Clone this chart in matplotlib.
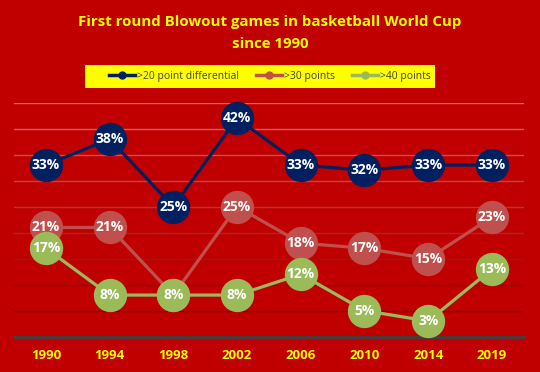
import numpy as np
import matplotlib
matplotlib.use("Agg")
import matplotlib.pyplot as plt
from matplotlib.patches import Rectangle
from matplotlib.lines import Line2D

plt.rcParams['font.family'] = ['Open Sans', 'DejaVu Sans']

years = ['1990', '1994', '1998', '2002', '2006', '2010', '2014', '2019']
pts20 = [33, 38, 25, 42, 33, 32, 33, 33]
pts30 = [21, 21, 8, 25, 18, 17, 15, 23]
pts40 = [17, 8, 8, 8, 12, 5, 3, 13]
labels = ['>20 point differential', '>30 points', '>40 points']

bg = '#c00000'
navy = '#002060'
pink = '#c0504d'
green = '#9bbb59'

fig = plt.figure(figsize=(5.4, 3.72), dpi=100, facecolor=bg)
ax = fig.add_axes([0.026, 0.095, 0.944, 0.629])
ax.set_facecolor(bg)

# gridlines get darker towards the bottom
grid_cols = ['#7a0000', '#880c0c', '#961a1a', '#a42828', '#b23636',
             '#c04444', '#ca5050', '#d25c5c', '#d86868']
for i, c in enumerate(grid_cols):
    ax.axhline((i + 1) * 5, color=c, lw=1.0, zorder=1)

x = np.arange(len(years))
series = [(pts20, navy), (pts30, pink), (pts40, green)]
for k, (vals, col) in enumerate(series):
    z = 3 + 2 * k
    ax.plot(x, vals, color=col, lw=2.3, marker='o', markersize=24,
            markeredgewidth=0, clip_on=False, zorder=z)
    for xi, v in zip(x, vals):
        ax.text(xi, v, f'{v}%', color='white', fontsize=10, fontweight='bold',
                ha='center', va='center', zorder=z + 1)

ax.set_xlim(-0.5, len(years) - 0.5)
ax.set_ylim(0, 45)
ax.set_yticks([])
ax.set_xticks(x)
ax.set_xticklabels(years, color='#ffff00', fontsize=9.5, fontweight='bold')
ax.tick_params(axis='x', length=0, pad=9)
for s in ['top', 'right', 'left']:
    ax.spines[s].set_visible(False)
ax.spines['bottom'].set_color('#404040')
ax.spines['bottom'].set_linewidth(2)

fig.text(0.5, 1 - 22 / 372, 'First round Blowout games in basketball World Cup',
         color='#ffff00', fontsize=10.8, fontweight='bold', ha='center', va='center')
fig.text(0.5, 1 - 44 / 372, 'since 1990', color='#ffff00', fontsize=10.8,
         fontweight='bold', ha='center', va='center')

# legend on a yellow strip
fig.patches.append(Rectangle((85 / 540, 1 - 88 / 372), 350 / 540, 23 / 372,
                             transform=fig.transFigure, facecolor='#ffff00',
                             edgecolor='none'))
handles = [Line2D([], [], color=c, lw=2.5, marker='o', markersize=5)
           for _, c in series]
leg = fig.legend(handles, labels, loc='center', bbox_to_anchor=(0.5, 1 - 76 / 372),
                 ncol=3, frameon=False, fontsize=7.5, handlelength=2.5,
                 handletextpad=0.2, columnspacing=1.6)
for t in leg.get_texts():
    t.set_color('#404040')

fig.savefig('out.png', dpi=100, facecolor=bg)
